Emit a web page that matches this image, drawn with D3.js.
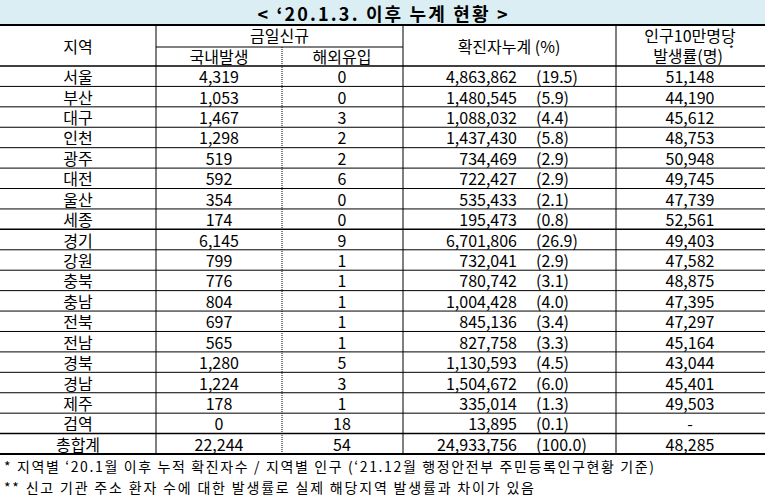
<!DOCTYPE html>
<html><head><meta charset="utf-8">
<script src="https://cdn.jsdelivr.net/npm/d3@7"></script>
<style>body{margin:0;background:#fff}</style></head>
<body><svg id="c" width="765" height="497"></svg>
<script>
const regions=["서울","부산","대구","인천","광주","대전","울산","세종","경기","강원","충북","충남","전북","전남","경북","경남","제주","검역","총합계"];
const domestic=["4,319","1,053","1,467","1,298","519","592","354","174","6,145","799","776","804","697","565","1,280","1,224","178","0","22,244"];
const overseas=["0","0","3","2","2","6","0","0","9","1","1","1","1","1","5","3","1","18","54"];
const cumulative=["4,863,862","1,480,545","1,088,032","1,437,430","734,469","722,427","535,433","195,473","6,701,806","732,041","780,742","1,004,428","845,136","827,758","1,130,593","1,504,672","335,014","13,895","24,933,756"];
const pct=["(19.5)","(5.9)","(4.4)","(5.8)","(2.9)","(2.9)","(2.1)","(0.8)","(26.9)","(2.9)","(3.1)","(4.0)","(3.4)","(3.3)","(4.5)","(6.0)","(1.3)","(0.1)","(100.0)"];
const rate=["51,148","44,190","45,612","48,753","50,948","49,745","47,739","52,561","49,403","47,582","48,875","47,395","47,297","45,164","43,044","45,401","49,503","-","48,285"];
const notes=["* 지역별 ‘20.1월 이후 누적 확진자수 / 지역별 인구 (‘21.12월 행정안전부 주민등록인구현황 기준)","** 신고 기관 주소 환자 수에 대한 발생률로 실제 해당지역 발생률과 차이가 있음"];

const svg=d3.select("#c");
const F="'Noto Sans CJK KR','Noto Sans',sans-serif";
const W=765, top0=25, h1=47, h2=66, bottom=454;
const y=d3.scaleBand().domain(d3.range(regions.length)).range([h2,bottom]);

svg.append("rect").attr("x",0).attr("y",0).attr("width",W).attr("height",top0).attr("fill","#dbeef3");
function txt(x,yy,s,anchor,size,weight,len){
  const t=svg.append("text").attr("x",x).attr("y",yy).attr("text-anchor",anchor||"middle")
   .attr("dominant-baseline","central").attr("font-family",F).attr("font-size",size||16)
   .attr("font-weight",weight||"normal").attr("fill","#000").text(s);
  if(len) t.attr("textLength",len).attr("lengthAdjust","spacing");
  return t;
}
txt(W/2,13,"< ‘20.1.3. 이후 누계 현황 >","middle",18,"bold",250);
txt(78,(top0+h2)/2,"지역");
txt((156+403)/2,35,"금일신규");
txt(219,56,"국내발생");
txt(342,56,"해외유입");
txt(509,(top0+h2)/2,"확진자누계   (%)");
txt(690,35,"인구10만명당");
txt(688,55,"발생률(명)");
txt(729,48,"*","start",10);

regions.forEach((r,i)=>{
  const cy=y(i)+y.bandwidth()/2;
  txt(78,cy,r);
  txt(219,cy,domestic[i]);
  txt(342,cy,overseas[i]);
  txt(517,cy,cumulative[i],"end");
  txt(536,cy,pct[i],"start");
  txt(690,cy,rate[i]);
});
const line=(x1,y1,x2,y2,w,dash)=>svg.append("line").attr("x1",x1).attr("y1",y1).attr("x2",x2).attr("y2",y2)
  .attr("stroke","#000").attr("stroke-width",w||1).attr("stroke-dasharray",dash||null);
line(0,top0,W,top0,2);
line(156,h1,403,h1,1);
line(0,h2,W,h2,1.5);
regions.forEach((r,i)=>{ if(i>0) line(0,y(i),W,y(i),(i==8||i==18)?1.5:1); });
line(0,bottom,W,bottom,2);
[156,403,616].forEach(x=>line(x,top0,x,bottom,1));
line(282,h1,282,bottom,1,"1,1");
txt(4,466,notes[0],"start",14,"normal",650);
txt(4,487,notes[1],"start",14,"normal",530);
</script></body></html>
